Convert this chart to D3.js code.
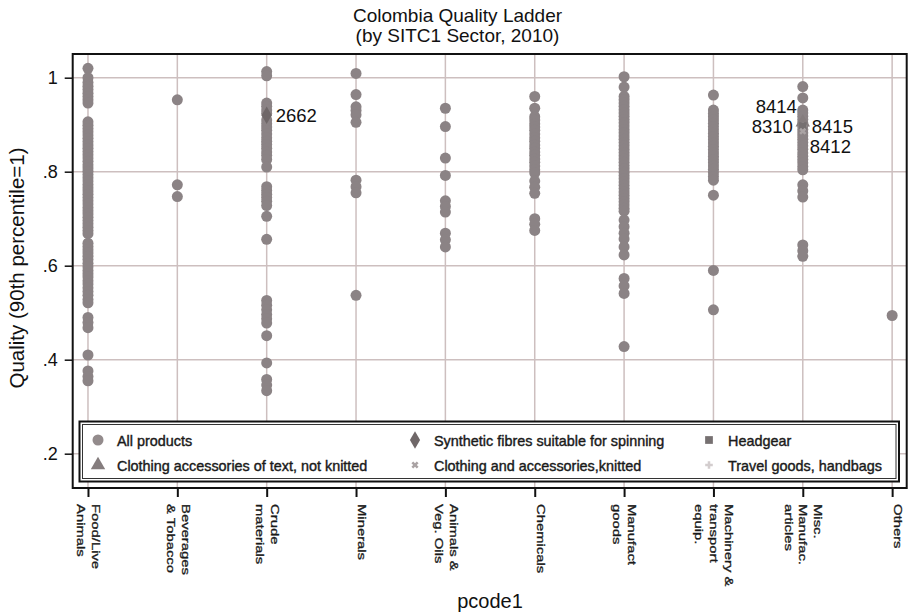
<!DOCTYPE html>
<html>
<head>
<meta charset="UTF-8">
<script src="https://cdnjs.cloudflare.com/ajax/libs/d3/7.8.5/d3.min.js"></script>
<style>
    body { margin: 0; background: #fff; }
    text { font-family: "Liberation Sans", Arial, sans-serif; }
</style>
</head>
<body>
<svg id="chart"></svg>
<script>
    //********** DATOS *********************

    var sectorLabels = [
        ["Food/Live", "Animals"],
        ["Beverages", "& Tobacco"],
        ["Crude", "materials"],
        ["Minerals"],
        ["Animals &", "Veg. Oils"],
        ["Chemicals"],
        ["Manufact", "goods"],
        ["Machinery &", "transport", "equip."],
        ["Misc.", "Manufac.", "articles"],
        ["Others"]];

    // quality of each product, one list per sector
    var foodLive = [1.02, 1.0, 0.99, 0.982, 0.975, 0.967, 0.96, 0.953, 0.946,
        0.906, 0.899, 0.892, 0.885, 0.878, 0.871, 0.864, 0.857, 0.85, 0.843, 0.836,
        0.829, 0.822, 0.815, 0.808, 0.801, 0.794, 0.787, 0.78, 0.773, 0.766, 0.759,
        0.752, 0.745, 0.738, 0.731, 0.724, 0.717, 0.71, 0.703, 0.696, 0.689, 0.682,
        0.675, 0.668, 0.648, 0.641, 0.634, 0.627, 0.62, 0.613, 0.605, 0.598, 0.59,
        0.583, 0.576, 0.568, 0.561, 0.553, 0.545, 0.537, 0.528, 0.521,
        0.49, 0.479, 0.468, 0.41, 0.376, 0.364, 0.355];
    var beverages = [0.953, 0.772, 0.747];
    var crude = [1.013, 1.004, 0.946, 0.939, 0.931, 0.924, 0.91, 0.902, 0.895,
        0.888, 0.88, 0.872, 0.865, 0.858, 0.85, 0.842, 0.835, 0.826, 0.81,
        0.768, 0.76, 0.752, 0.745, 0.737, 0.728, 0.705, 0.656,
        0.526, 0.516, 0.506, 0.496, 0.487, 0.478, 0.451, 0.393, 0.358, 0.346, 0.334];
    var minerals = [1.009, 0.964, 0.938, 0.93, 0.921, 0.905, 0.782, 0.768, 0.755, 0.537];
    var animalsVeg = [0.935, 0.896, 0.829, 0.792, 0.738, 0.726, 0.714, 0.669, 0.655, 0.64];
    var chemicals = [0.96, 0.935, 0.917, 0.91, 0.902, 0.895, 0.888, 0.88, 0.872,
        0.865, 0.857, 0.85, 0.842, 0.835, 0.827, 0.82, 0.812, 0.804, 0.797,
        0.78, 0.767, 0.754, 0.7, 0.688, 0.675];
    var manufactGoods = [1.002, 0.98, 0.96, 0.953, 0.946, 0.939, 0.932, 0.925,
        0.918, 0.911, 0.904, 0.897, 0.89, 0.883, 0.876, 0.869, 0.862, 0.855, 0.848,
        0.841, 0.834, 0.827, 0.82, 0.813, 0.806, 0.799, 0.792, 0.785, 0.778, 0.771,
        0.764, 0.757, 0.75, 0.743, 0.736, 0.729, 0.722, 0.716,
        0.697, 0.683, 0.669, 0.657, 0.64, 0.623, 0.573, 0.557, 0.541, 0.428];
    var machinery = [0.963, 0.931, 0.924, 0.917, 0.91, 0.903, 0.896, 0.889, 0.882,
        0.875, 0.868, 0.861, 0.854, 0.847, 0.84, 0.833, 0.826, 0.819, 0.812, 0.805,
        0.798, 0.79, 0.782, 0.75, 0.59, 0.506];
    var miscManuf = [0.981, 0.957, 0.931, 0.925, 0.918, 0.911, 0.904, 0.897, 0.89,
        0.883, 0.876, 0.869, 0.862, 0.855, 0.848, 0.84, 0.833, 0.826, 0.819, 0.811,
        0.804, 0.772, 0.759, 0.746, 0.644, 0.632, 0.62];
    var others = [0.494];

    var qualityBySector = [foodLive, beverages, crude, minerals, animalsVeg,
        chemicals, manufactGoods, machinery, miscManuf, others];

    // highlighted products
    var legendNames = ["All products", "Clothing accessories of text, not knitted",
        "Synthetic fibres suitable for spinning", "Clothing and accessories,knitted",
        "Headgear", "Travel goods, handbags"];
    var specialCodes = ["2662", "8414", "8310", "8415", "8412"];
    var specialSector = [2, 8, 8, 8, 8];
    var specialQuality = [0.92, 0.905, 0.897, 0.897, 0.886];
    var specialKind = ["diamond", "triangle", "plus", "square", "x"];
    var specialClock = [3, 10, 9, 3, 4];

    var yTicks = [0.2, 0.4, 0.6, 0.8, 1];

    //********** DEFINICIONES *********************

    var width = 911, height = 615;
    var plotL = 72.7, plotR = 906.7, plotT = 54, plotB = 488;
    var pointColor = "#8b8385";
    var gridColor = "#cdbfbf";

    var x = d3.scaleLinear().domain([-0.171, 9.163]).range([plotL, plotR]);
    var y = d3.scaleLinear().domain([0.127, 1.0504]).range([plotB, plotT]);

    var markStyle = {
        circle:   { type: d3.symbolCircle,   size: 95, fill: "#938b8c", rot: 0 },
        diamond:  { type: d3.symbolDiamond,  size: 90, fill: "#6f6768", rot: 0 },
        triangle: { type: d3.symbolTriangle, size: 90, fill: "#857d7e", rot: 0 },
        square:   { type: d3.symbolSquare,   size: 60, fill: "#767071", rot: 0 },
        x:        { type: d3.symbolCross,    size: 32, fill: "#aaa3a4", rot: 45 },
        plus:     { type: d3.symbolCross,    size: 32, fill: "#d3cdce", rot: 0 }
    };
    var legendKinds = ["circle", "triangle", "diamond", "x", "square", "plus"];

    // marker label offsets by clock position: dx, dy, anchor
    var clockPos = {
        3: [9, 7, "start"],
        4: [7, 22, "start"],
        9: [-10, 7, "end"],
        10: [-6, -9, "end"]
    };

    var svg = d3.select("#chart").attr("width", width).attr("height", height);
    svg.append("rect").attr("width", width).attr("height", height).attr("fill", "#fff");

    //********** GRILLA *********************

    var grid = svg.append("g");
    grid.selectAll(".hg").data(yTicks).enter().append("line")
        .attr("x1", plotL).attr("x2", plotR)
        .attr("y1", function (d) { return y(d); }).attr("y2", function (d) { return y(d); })
        .attr("stroke", gridColor).attr("stroke-width", 1.5);
    grid.selectAll(".vg").data(d3.range(sectorLabels.length)).enter().append("line")
        .attr("x1", function (d) { return x(d); }).attr("x2", function (d) { return x(d); })
        .attr("y1", plotT).attr("y2", plotB)
        .attr("stroke", gridColor).attr("stroke-width", 1.5);

    //********** PUNTOS *********************

    var points = [];
    qualityBySector.forEach(function (vals, i) {
        vals.forEach(function (v) { points.push({ sector: i, q: v }); });
    });

    svg.append("g").selectAll("circle").data(points).enter().append("circle")
        .attr("cx", function (d) { return x(d.sector); })
        .attr("cy", function (d) { return y(d.q); })
        .attr("r", 5.5)
        .attr("fill", pointColor);

    var specials = specialCodes.map(function (c, i) {
        return { code: c, sector: specialSector[i], q: specialQuality[i],
            kind: specialKind[i], clock: specialClock[i] };
    });

    svg.append("g").selectAll("path").data(specials).enter().append("path")
        .attr("d", function (d) { return d3.symbol().type(markStyle[d.kind].type).size(markStyle[d.kind].size)(); })
        .attr("transform", function (d) {
            return "translate(" + x(d.sector) + "," + y(d.q) + ") rotate(" + markStyle[d.kind].rot + ")";
        })
        .attr("fill", function (d) { return markStyle[d.kind].fill; });

    svg.append("g").selectAll("text").data(specials).enter().append("text")
        .attr("x", function (d) { return x(d.sector) + clockPos[d.clock][0]; })
        .attr("y", function (d) { return y(d.q) + clockPos[d.clock][1]; })
        .attr("text-anchor", function (d) { return clockPos[d.clock][2]; })
        .attr("font-size", "18.5px")
        .attr("fill", "#111")
        .text(function (d) { return d.code; });

    //********** LEYENDA *********************

    var lg = svg.append("g");
    lg.append("rect").attr("x", 79.5).attr("y", 421.5).attr("width", 819.5).attr("height", 60)
        .attr("fill", "#fff").attr("stroke", "#111").attr("stroke-width", 2);
    lg.append("rect").attr("x", 82.5).attr("y", 424.5).attr("width", 813.5).attr("height", 54)
        .attr("fill", "none").attr("stroke", "#333").attr("stroke-width", 1);

    var legendCols = [98, 415, 709];
    var legendRows = [440, 465];
    legendNames.forEach(function (name, i) {
        var cx = legendCols[Math.floor(i / 2)], cy = legendRows[i % 2];
        var st = markStyle[legendKinds[i]];
        lg.append("path")
            .attr("d", d3.symbol().type(st.type).size(st.size)())
            .attr("transform", "translate(" + cx + "," + cy + ") rotate(" + st.rot + ")")
            .attr("fill", st.fill);
        lg.append("text")
            .attr("x", cx + 19).attr("y", cy + 5.5)
            .attr("font-size", "14.4px")
            .attr("fill", "#1a1a1a")
            .attr("stroke", "#1a1a1a").attr("stroke-width", 0.4)
            .text(name);
    });

    //********** EJES *********************

    var yAxis = svg.append("g").attr("transform", "translate(" + plotL + ",0)")
        .call(d3.axisLeft(y).tickValues(yTicks).tickSize(8).tickPadding(7)
            .tickFormat(function (d) { return d === 1 ? "1" : d3.format(".1f")(d).replace(/^0/, ""); }));
    yAxis.select(".domain").remove();
    yAxis.selectAll("line").attr("stroke", "#111").attr("stroke-width", 1.5);
    yAxis.selectAll("text").attr("font-size", "18px").attr("fill", "#111")
        .attr("font-family", "Liberation Sans, Arial, sans-serif");

    var xAxis = svg.append("g").attr("transform", "translate(0," + plotB + ")")
        .call(d3.axisBottom(x).tickValues(d3.range(sectorLabels.length)).tickSize(9).tickFormat(""));
    xAxis.select(".domain").remove();
    xAxis.selectAll("line").attr("stroke", "#111").attr("stroke-width", 2);

    // rotated sector names, several lines each
    sectorLabels.forEach(function (lines, i) {
        var n = lines.length;
        var g = svg.append("g")
            .attr("transform", "translate(" + x(i) + ",504) rotate(90) scale(1.35,1)");
        lines.forEach(function (ln, j) {
            var off = 15 * ((n - 1) / 2 - j) + (n === 1 ? 6 : 0.5);
            g.append("text")
                .attr("x", 0).attr("y", -off)
                .attr("dominant-baseline", "central")
                .attr("font-size", "11px")
                .attr("fill", "#1a1a1a")
                .attr("stroke", "#1a1a1a").attr("stroke-width", 0.3)
                .text(ln);
        });
    });

    // marco
    svg.append("rect").attr("x", plotL).attr("y", plotT)
        .attr("width", plotR - plotL).attr("height", plotB - plotT)
        .attr("fill", "none").attr("stroke", "#111").attr("stroke-width", 2);

    //********** TITULOS *********************

    svg.append("text").attr("x", 457.5).attr("y", 22).attr("text-anchor", "middle")
        .attr("font-size", "19px").attr("fill", "#111").text("Colombia Quality Ladder");
    svg.append("text").attr("x", 457.5).attr("y", 42).attr("text-anchor", "middle")
        .attr("font-size", "19px").attr("fill", "#111").text("(by SITC1 Sector, 2010)");

    svg.append("text").attr("transform", "translate(24,268) rotate(-90)")
        .attr("text-anchor", "middle").attr("font-size", "20.5px").attr("fill", "#111")
        .text("Quality (90th percentile=1)");

    svg.append("text").attr("x", 490).attr("y", 608).attr("text-anchor", "middle")
        .attr("font-size", "20px").attr("fill", "#111").text("pcode1");
</script>
</body>
</html>
